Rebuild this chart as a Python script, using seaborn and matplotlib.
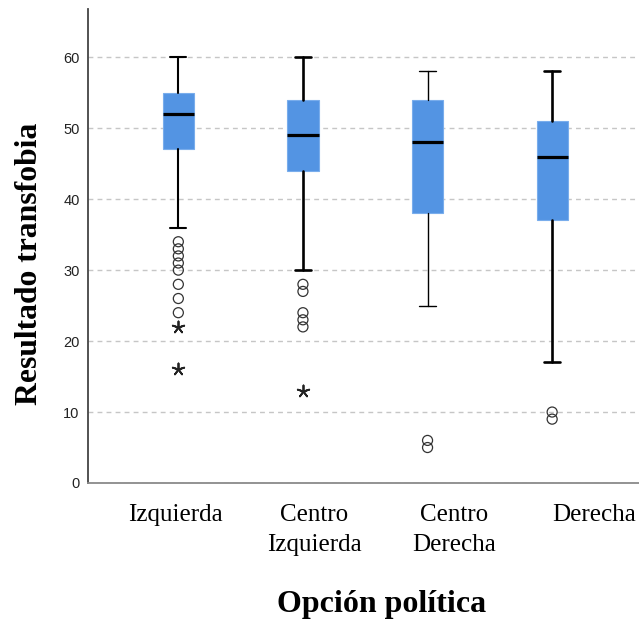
import numpy as np
import pandas as pd
import matplotlib
matplotlib.use("Agg")
import matplotlib.pyplot as plt
import seaborn as sns
from matplotlib.transforms import blended_transform_factory

# ---- data ----
categories = ["Izquierda", "Centro\nIzquierda", "Centro\nDerecha", "Derecha"]
whisker_low = [36, 30, 25, 17]
q1 = [47, 44, 38, 37]
median = [52, 49, 48, 46]
q3 = [55, 54, 54, 51]
whisker_high = [60, 60, 58, 58]
outliers = [[34, 33, 32, 31, 30, 28, 26, 24], [28, 27, 24, 23, 22], [6, 5], [10, 9]]
extremes = [[22, 16], [13], [], []]
y_ticks = [0, 10, 20, 30, 40, 50, 60]
x_title = "Opción política"
y_title = "Resultado transfobia"

# ---- style ----
sns.set_theme(style="white")
plt.rcParams['font.family'] = ['Liberation Sans', 'DejaVu Sans']

BOX_COLOR = "#5394E3"
whisker_lw = [1.5, 1.9, 1.0, 1.9]

fig = plt.figure(figsize=(6.39, 6.25), dpi=100)
ax = fig.add_axes([88 / 639, 1 - 483 / 625, 1 - 88 / 639, (483 - 9) / 625])

positions = list(range(len(categories)))
stats = [dict(whislo=lo, q1=a, med=m, q3=b, whishi=hi, fliers=[])
         for lo, a, m, b, hi in zip(whisker_low, q1, median, q3, whisker_high)]

art = ax.bxp(stats, positions=positions, widths=0.25, capwidths=0.13,
             patch_artist=True, showfliers=False, manage_ticks=False,
             boxprops=dict(facecolor=BOX_COLOR, edgecolor="#79adec", linewidth=0.8),
             medianprops=dict(color="black", linewidth=2.3, solid_capstyle="butt"),
             whiskerprops=dict(color="black", linewidth=1.6),
             capprops=dict(color="black", linewidth=1.6))
for i, lw in enumerate(whisker_lw):
    for line in art['whiskers'][2 * i:2 * i + 2] + art['caps'][2 * i:2 * i + 2]:
        line.set_linewidth(lw)

df_out = pd.DataFrame({
    "x": [i for i, v in enumerate(outliers) for _ in v],
    "y": [y for v in outliers for y in v],
})
df_ext = pd.DataFrame({
    "x": [i for i, v in enumerate(extremes) for _ in v],
    "y": [y for v in extremes for y in v],
})
sns.scatterplot(data=df_out, x="x", y="y", marker="o", s=52, facecolor="none",
                edgecolor="#333333", linewidth=0.9, ax=ax, zorder=3)
sns.scatterplot(data=df_ext, x="x", y="y", marker=(5, 2, 0), s=75,
                color="#222222", linewidth=1.3, ax=ax, zorder=3)

ax.set_xlim(-0.725, 3.697)
ax.set_ylim(0, 66.8)
ax.set_yticks(y_ticks)
ax.set_xticks([])
ax.set_xlabel("")
ax.set_ylabel("")
ax.set_axisbelow(True)
ax.yaxis.grid(True, color="#c6c6c6", linestyle=(0, (3.5, 3.0)), linewidth=1.0)
ax.tick_params(axis="y", length=0, pad=6, labelsize=10.5, labelcolor="#222222")
for s in ["top", "right"]:
    ax.spines[s].set_visible(False)
ax.spines["left"].set_color("#444444")
ax.spines["left"].set_linewidth(1.3)
ax.spines["bottom"].set_color("#8a8a8a")
ax.spines["bottom"].set_linewidth(1.3)

# category labels (placed below the axis, serif like the original), one text per line
label_x = [-0.02, 1.093, 2.213, 3.336]
trans = blended_transform_factory(ax.transData, fig.transFigure)
for xp, lab in zip(label_x, categories):
    for k, part in enumerate(lab.split("\n")):
        base_px = 521 + 30 * k
        ax.text(xp, 1 - base_px / 625, part, transform=trans, ha="center",
                va="baseline", fontsize=18, family="Liberation Serif",
                color="black", clip_on=False)

fig.text(382 / 639, 1 - 612 / 625, x_title, ha="center", va="baseline",
         fontsize=23, fontweight="bold", family="Liberation Serif", color="black")
fig.text(37 / 639, 1 - 263.5 / 625, y_title, rotation=90, rotation_mode="anchor",
         ha="center", va="baseline",
         fontsize=22.8, fontweight="bold", family="Liberation Serif", color="black")

fig.savefig("out.png", dpi=100, facecolor="white")
